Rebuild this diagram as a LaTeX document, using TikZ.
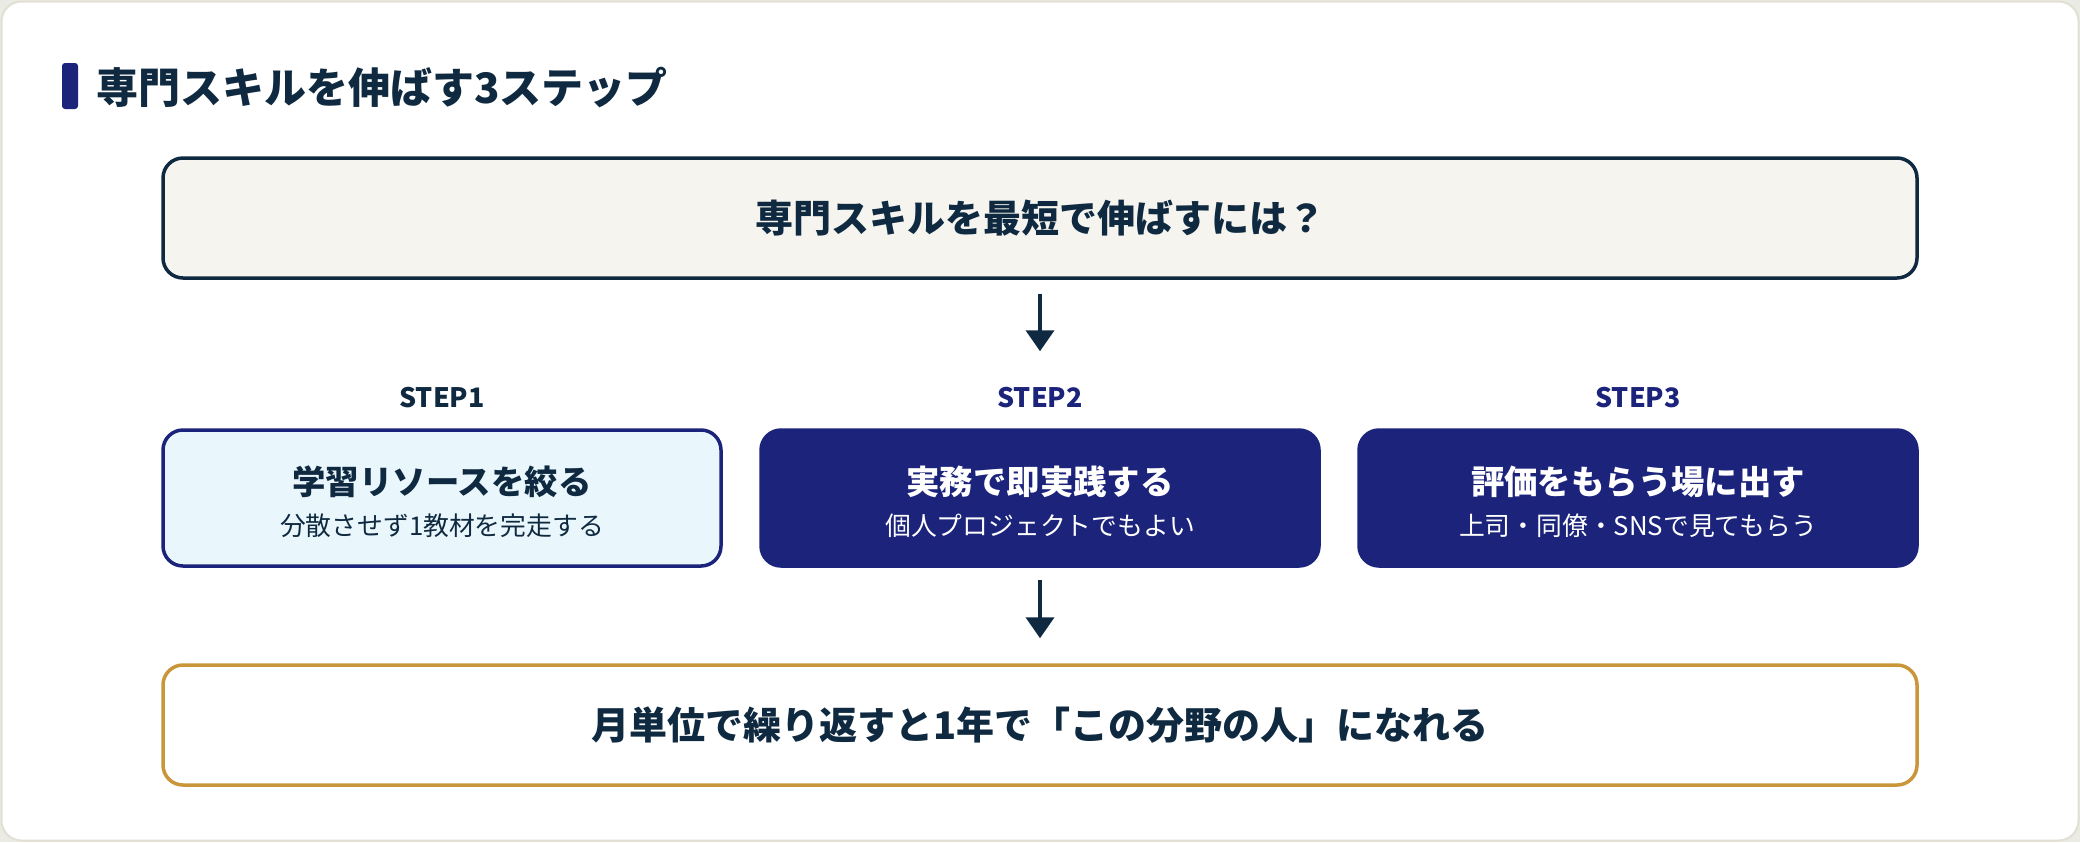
\documentclass[tikz,border=0pt]{standalone}
\usepackage{fontspec}
\setmainfont{Noto Sans CJK JP}
\usepackage{xcolor}
\usepackage{tikz}
\usetikzlibrary{shapes.geometric, arrows.meta}
\definecolor{navy}{HTML}{1B237B}
\definecolor{ink}{HTML}{0F2A40}
\definecolor{paper}{HTML}{F5F4EF}
\definecolor{ice}{HTML}{E9F7FD}
\definecolor{gold}{HTML}{C9963A}
\definecolor{framegray}{HTML}{E2DFD3}
\definecolor{outside}{HTML}{EBEBE5}
\tikzstyle{question} = [rectangle, rounded corners=10pt, minimum width=877pt, minimum height=60pt, text centered, draw=ink, line width=1.75pt, fill=paper, text=ink, font=\fontsize{19pt}{23pt}\selectfont\bfseries]
\tikzstyle{goalbox} = [question, draw=gold, fill=white]
\tikzstyle{stepbox} = [rectangle, rounded corners=10pt, minimum width=279pt, minimum height=68pt, align=center, draw=navy, line width=1.75pt, fill=navy, text=white, font=\fontsize{12.9pt}{20.5pt}\selectfont]
\tikzstyle{steplabel} = [text=navy, font=\fontsize{13.4pt}{15pt}\selectfont\bfseries]
\tikzstyle{arrow} = [line width=2pt, draw=ink, -{Triangle[length=10.5pt, width=14pt]}]
\newcommand{\steptitle}[1]{{\fontsize{16.7pt}{20.5pt}\selectfont\bfseries\rule{0pt}{18.5pt}#1}}

\begin{document}
\begin{tikzpicture}[x=0.5pt, y=-0.5pt, node distance=299pt]
    \fill [outside] (0,0) rectangle (2080,842);
    \draw [framegray, fill=white, line width=1pt, rounded corners=10pt] (1.5,1.5) rectangle (2078.5,840.5);
    \fill [navy, rounded corners=1.5pt] (62,63) rectangle (78,109);
    \node (title) [anchor=west, inner sep=0pt, text=ink, font=\fontsize{21pt}{25pt}\selectfont\bfseries] at (96,87) {専門スキルを伸ばす3ステップ};
    \node (q) [question] at (1040,218) {専門スキルを最短で伸ばすには？};
    \node (s2) [stepbox] at (1040,498) {\steptitle{実務で即実践する}\\個人プロジェクトでもよい};
    \node (s1) [stepbox, left of=s2, fill=ice, text=ink] {\steptitle{学習リソースを絞る}\\分散させず1教材を完走する};
    \node (s3) [stepbox, right of=s2] {\steptitle{評価をもらう場に出す}\\上司・同僚・SNSで見てもらう};
    \node (l1) [steplabel, text=ink] at (442,398) {STEP1};
    \node (l2) [steplabel] at (1040,398) {STEP2};
    \node (l3) [steplabel] at (1638,398) {STEP3};
    \node (goal) [goalbox] at (1040,725) {月単位で繰り返すと1年で「この分野の人」になれる};
    \draw [arrow, shorten <=7pt, shorten >=38.5pt] (q) -- (s2);
    \draw [arrow, shorten <=6pt, shorten >=12.5pt] (s2) -- (goal);
\end{tikzpicture}
\end{document}
